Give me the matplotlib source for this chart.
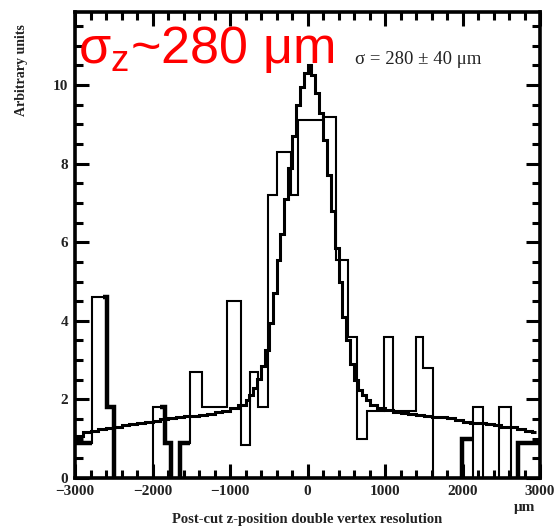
import numpy as np
import matplotlib
matplotlib.use("Agg")
import matplotlib.pyplot as plt
from matplotlib.ticker import MultipleLocator

nan = np.nan

# data histogram (thin outline), variable edges, in um
data_edges = [-3000, -2780, -2590, -2500, -2000, -1840, -1760, -1650, -1520, -1360,
              -1040, -860, -740, -640, -510, -390, -210, -120, 200, 370, 520, 640,
              770, 990, 1100, 1400, 1490, 1620, 2130, 2260, 2470, 2630, 2720, 3000]
data_vals = [0.9, 4.6, 1.8, 0, 1.8, 0.9, 0, 0.9, 2.7, 1.8,
             4.5, 0.85, 2.7, 1.8, 7.2, 8.3, 7.2, 9.1, 9.2, 5.55, 3.6, 1.0,
             1.7, 3.6, 1.7, 3.6, 2.8, 0, 1.8, 0, 1.8, 0, 0.9]

# bold pieces of the second data histogram (nan = not drawn)
bold_edges = [-3000, -2780, -2640, -2590, -2500, -2480, -1900, -1840, -1760, -1740,
              -1670, -1650, -1520, 1970, 1990, 2130, 2700, 2720, 3000]
bold_vals = [0.9, nan, 4.6, 1.8, 0, nan, 1.8, 0.9, 0, nan,
             0, 0.9, nan, 0, 1.0, nan, 0, 0.9]

# fit (gaussian + background) drawn as a fine staircase
fit_edges = np.concatenate([np.arange(-3000, -800, 100),
                            np.arange(-800, 800, 50),
                            np.arange(800, 3000, 100), [2950]])
fit_edges[-2:] = [2900, 2950]
fit_vals = [1.08, 1.16, 1.20, 1.25, 1.28, 1.31, 1.34, 1.37, 1.40, 1.43, 1.46,
            1.49, 1.52, 1.55, 1.57, 1.59, 1.61, 1.64, 1.67, 1.71, 1.77, 1.86,
            1.98, 2.12, 2.30, 2.52, 2.85, 3.25, 3.95, 4.70, 5.55, 6.20, 7.10,
            7.90, 8.70, 9.50, 9.95, 10.30, 10.50, 10.25, 9.80, 9.30, 8.60, 7.70,
            6.80, 5.85, 5.00, 4.10, 3.50, 2.90, 2.50, 2.25, 2.10, 1.98,
            1.86, 1.78, 1.73, 1.69, 1.65, 1.63, 1.61, 1.59, 1.56, 1.54, 1.52,
            1.47, 1.43, 1.41, 1.40, 1.37, 1.34, 1.31, 1.29, 1.25, 1.20, 1.17]

x_ticks = [-3000, -2000, -1000, 0, 1000, 2000, 3000]
y_ticks = [0, 2, 4, 6, 8, 10]

plt.rcParams["mathtext.fontset"] = "custom"
plt.rcParams["mathtext.rm"] = "Liberation Sans"
plt.rcParams["mathtext.it"] = "Liberation Sans"

fig = plt.figure(figsize=(5.54, 5.32), dpi=100)
ax = fig.add_axes([75 / 554, 1 - 478 / 532, 465 / 554, 466 / 532])

ax.stairs(fit_vals, fit_edges, baseline=None, color="black", lw=2.2)
ax.stairs(data_vals, data_edges, baseline=None, color="black", lw=1.5)
ax.stairs(bold_vals, bold_edges, baseline=None, color="black", lw=3.2)

ax.set_xlim(-3000, 3000)
ax.set_ylim(0, 11.86)
ax.set_xticks(x_ticks)
ax.set_yticks(y_ticks)
ax.xaxis.set_minor_locator(MultipleLocator(200))
ax.yaxis.set_minor_locator(MultipleLocator(0.5))
ax.tick_params(which="both", direction="in", top=True, right=True, width=2.2,
               labelsize=11, pad=5)
ax.tick_params(which="major", length=10)
ax.tick_params(which="minor", length=6)
for lab in ax.get_xticklabels() + ax.get_yticklabels():
    lab.set_fontfamily("Liberation Serif")
    lab.set_fontweight("bold")
    lab.set_color("#222222")
for s in ax.spines.values():
    s.set_linewidth(2.6)

fig.text(22 / 554, 1 - 70 / 532, "Arbitrary units", rotation=90, ha="center",
         va="center", fontsize=10, fontweight="bold", family="Liberation Serif",
         color="#222222")
fig.text(307 / 554, 1 - 520 / 532, "Post-cut z-position double vertex resolution",
         ha="center", va="center", fontsize=10.5, fontweight="bold",
         family="Liberation Serif", color="#222222")
fig.text(525 / 554, 1 - 508 / 532, "μm", ha="center", va="center", fontsize=11,
         fontweight="bold", family="Liberation Serif", color="#222222")
fig.text(355 / 554, 1 - 60 / 532, "σ = 280 ± 40 μm", ha="left", va="center",
         fontsize=13.5, family="Liberation Serif", color="#222222")
fig.text(78 / 554, 1 - 63 / 532, r"$\mathregular{\sigma_z}$~280 μm", ha="left",
         va="baseline", fontsize=37.5, color="red", family="Liberation Sans")

fig.savefig("out.png", dpi=100)
